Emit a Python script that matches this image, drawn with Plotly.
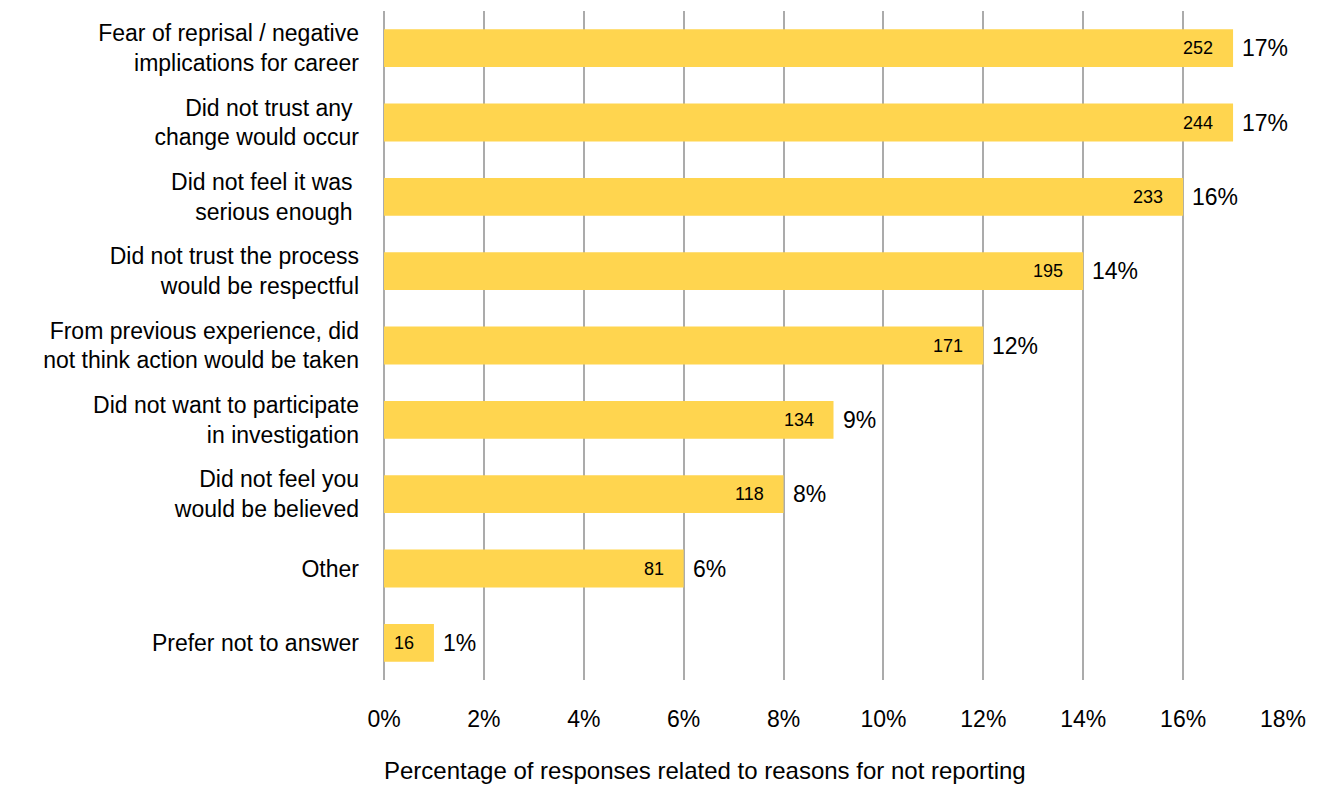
import plotly.graph_objects as go

categories = [
    "Fear of reprisal / negative<br>implications for career",
    "Did not trust any <br>change would occur",
    "Did not feel it was <br>serious enough ",
    "Did not trust the process<br>would be respectful",
    "From previous experience, did<br>not think action would be taken",
    "Did not want to participate<br>in investigation",
    "Did not feel you<br>would be believed",
    "Other",
    "Prefer not to answer",
]
counts = [252, 244, 233, 195, 171, 134, 118, 81, 16]
percents = [17, 17, 16, 14, 12, 9, 8, 6, 1]
x_ticks = [0, 2, 4, 6, 8, 10, 12, 14, 16, 18]
x_ticklabels = [f"{v}%" for v in x_ticks]
x_title = "Percentage of responses related to reasons for not reporting"

FONT = "Liberation Sans, Arial, Helvetica, sans-serif"

fig = go.Figure()
fig.add_trace(go.Bar(
    y=categories, x=percents, orientation="h",
    marker=dict(color="#FFD54F", line=dict(width=0)),
    hoverinfo="skip", showlegend=False,
))

annotations = []
for cat, c, p in zip(categories, counts, percents):
    annotations.append(dict(
        x=p, y=cat, xref="x", yref="y", text=str(c), showarrow=False,
        xanchor="right", xshift=-18, font=dict(size=18, color="black", family=FONT),
    ))
    annotations.append(dict(
        x=p, y=cat, xref="x", yref="y", text=f"{p}%", showarrow=False,
        xanchor="left", xshift=7, font=dict(size=23, color="black", family=FONT),
    ))
annotations.append(dict(
    x=0, y=0, xref="paper", yref="paper", text=x_title, showarrow=False,
    xanchor="left", yanchor="top", xshift=-2, yshift=-75,
    font=dict(size=24, color="black", family=FONT),
))

fig.update_layout(
    width=1323, height=785,
    margin=dict(l=376, r=48, t=3, b=113),
    paper_bgcolor="white", plot_bgcolor="white",
    bargap=0.49,
    font=dict(family=FONT, color="black"),
    annotations=annotations,
    xaxis=dict(
        range=[0, 18], tickvals=x_ticks, ticktext=x_ticklabels,
        showgrid=True, gridcolor="#ababab", gridwidth=1.5,
        zeroline=True, zerolinecolor="#ababab", zerolinewidth=2,
        tickfont=dict(size=23), ticklabelstandoff=23,
        showline=False, fixedrange=True,
    ),
    yaxis=dict(
        autorange="reversed", tickfont=dict(size=23),
        ticklabelstandoff=24, showgrid=False, showline=False, fixedrange=True,
    ),
)

fig.write_html("out.html")
